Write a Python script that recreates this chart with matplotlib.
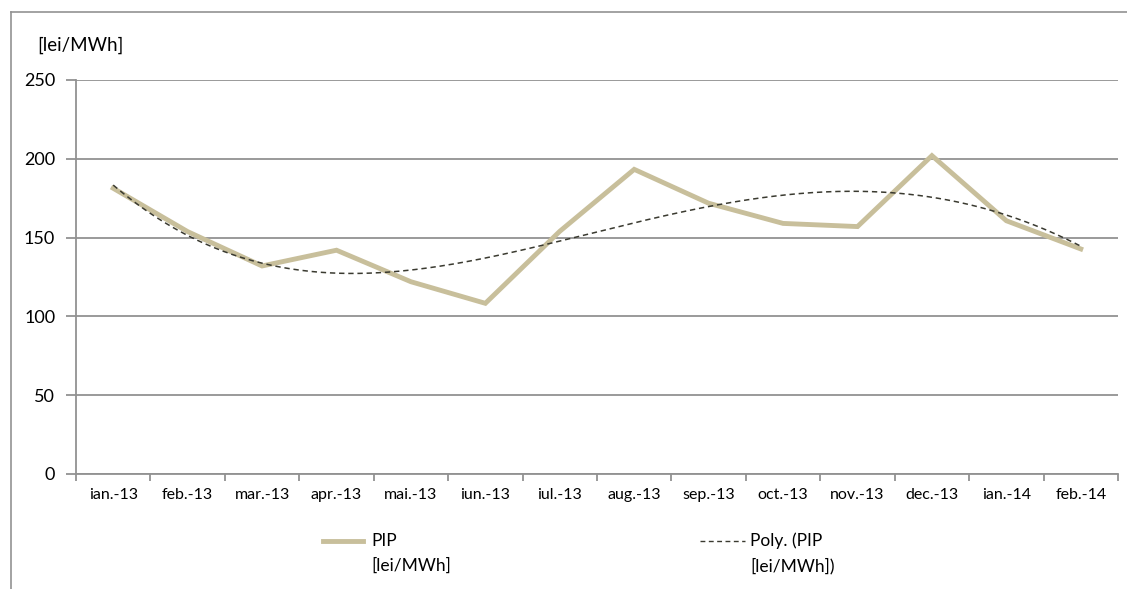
import numpy as np
import matplotlib
matplotlib.use("Agg")
import matplotlib.pyplot as plt
from matplotlib.lines import Line2D

plt.rcParams['font.family'] = ['Lato', 'DejaVu Sans']

months = ["ian.-13", "feb.-13", "mar.-13", "apr.-13", "mai.-13", "iun.-13", "iul.-13",
          "aug.-13", "sep.-13", "oct.-13", "nov.-13", "dec.-13", "ian.-14", "feb.-14"]
pip = [181.3, 153.8, 132.0, 142.0, 122.0, 108.3, 154.0,
       193.3, 171.8, 159.0, 157.0, 202.0, 160.7, 142.8]

W, H = 1127, 589
fig = plt.figure(figsize=(W / 100, H / 100), dpi=100)
ax = fig.add_axes([76 / W, 1 - 474 / H, (1118 - 76) / W, (474 - 80) / H])

x = np.arange(len(months))
# polynomial trendline computed from the series
coef = np.polyfit(x, pip, 4)
xs = np.linspace(0, len(months) - 1, 300)
trend = np.polyval(coef, xs)

line_col = "#c8bf9b"
trend_col = "#3a3a30"
grid_col = "#929292"

ax.plot(x, pip, color=line_col, lw=3.5, solid_joinstyle="miter", zorder=3)
ax.plot(xs, trend, color=trend_col, lw=1.1, ls=(0, (3.5, 2.5)), zorder=4)

ax.set_xlim(-0.5, len(months) - 0.5)
ax.set_ylim(0, 250)
ax.set_yticks(range(0, 251, 50))
ax.yaxis.grid(True, color=grid_col, lw=1.3)
ax.set_axisbelow(True)
for s in ["top", "right"]:
    ax.spines[s].set_visible(False)
for s in ["left", "bottom"]:
    ax.spines[s].set_color(grid_col)
    ax.spines[s].set_linewidth(1.3)

ax.set_xticks(x)
ax.set_xticklabels(months, fontsize=11.5)
ax.set_xticks(np.arange(-0.5, len(months)), minor=True)
ax.tick_params(axis="x", which="major", length=0, pad=10)
ax.tick_params(axis="x", which="minor", length=5, color=grid_col, width=1.3)
ax.tick_params(axis="y", length=7, color=grid_col, width=1.3, labelsize=13, pad=8)

fig.text(37 / W, 1 - 45 / H, "[lei/MWh]", fontsize=13.5, ha="left", va="center")

# outer frame lines
fig.add_artist(Line2D([11 / W, 1], [1 - 12 / H, 1 - 12 / H], color=grid_col, lw=1.2))
fig.add_artist(Line2D([11 / W, 11 / W], [0, 1 - 12 / H], color=grid_col, lw=1.2))

# legend, drawn by hand to mimic the two-line entries
y1, y2 = 1 - 541 / H, 1 - 566 / H
fig.add_artist(Line2D([323 / W, 363 / W], [y1, y1], color=line_col, lw=3.5))
fig.text(371 / W, y1, "PIP", fontsize=12.5, va="center")
fig.text(371 / W, y2, "[lei/MWh]", fontsize=12.5, va="center")
fig.add_artist(Line2D([700 / W, 745 / W], [y1, y1], color=trend_col, lw=1.0,
                      ls=(0, (3.5, 2.5))))
fig.text(750 / W, y1, "Poly. (PIP", fontsize=12.5, va="center")
fig.text(750 / W, y2, "[lei/MWh])", fontsize=12.5, va="center")

fig.savefig("out.png", dpi=100)
